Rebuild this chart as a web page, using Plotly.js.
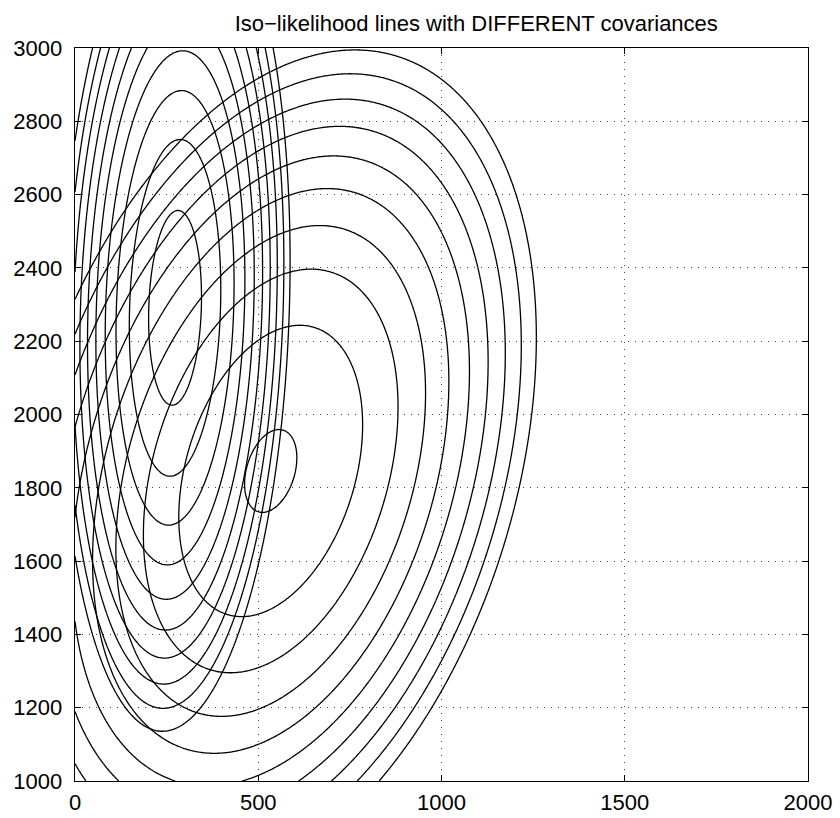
<!DOCTYPE html>
<html>
<head>
<meta charset="utf-8">
<script src="https://cdn.plot.ly/plotly-3.0.1.min.js"></script>
<style>html,body{margin:0;padding:0;background:#fff;}#chart{width:840px;height:818px;}</style>
</head>
<body>
<div id="chart"></div>
<script>
// Gaussian class parameters (x, y)
const meanA = [273, 2291];
const covA = [[2592, 1053], [1053, 35112]];
const meanB = [534, 1846];
const covB = [[14450, 7260], [7260, 36300]];
// iso-likelihood levels (natural log-likelihood)
const levelStart = -30;
const levelEnd = -12;
const levelStep = 2;
// axis ticks
const xTicks = [0, 500, 1000, 1500, 2000];
const yTicks = [1000, 1200, 1400, 1600, 1800, 2000, 2200, 2400, 2600, 2800, 3000];

const xs = [], ys = [];
for (let v = 0; v <= 2000; v += 4) xs.push(v);
for (let v = 1000; v <= 3000; v += 4) ys.push(v);

function logLik(mean, cov) {
  const a = cov[0][0], b = cov[0][1], d = cov[1][1];
  const det = a * d - b * b;
  const c0 = -Math.log(2 * Math.PI) - 0.5 * Math.log(det);
  const z = [];
  for (const y of ys) {
    const row = [];
    const dy = y - mean[1];
    for (const x of xs) {
      const dx = x - mean[0];
      const m = (d * dx * dx - 2 * b * dx * dy + a * dy * dy) / det;
      row.push(c0 - 0.5 * m);
    }
    z.push(row);
  }
  return z;
}

function trace(z) {
  return {
    type: 'contour', x: xs, y: ys, z: z,
    autocontour: false,
    contours: {start: levelStart, end: levelEnd, size: levelStep, coloring: 'lines', showlabels: false},
    colorscale: [[0, '#000'], [1, '#000']],
    showscale: false,
    line: {width: 1.3, smoothing: 1},
    hoverinfo: 'skip'
  };
}

const font = {family: '"Liberation Sans", Arial, Helvetica, sans-serif', color: '#000'};
const axisCommon = {
  showline: true, linecolor: '#000', linewidth: 1.3, mirror: 'ticks',
  ticks: 'inside', ticklen: 6, tickcolor: '#000', tickwidth: 1,
  showgrid: true, gridcolor: '#444', gridwidth: 1, griddash: '1px,6px',
  zeroline: false, tickfont: {family: font.family, size: 22, color: '#000'}
};

const layout = {
  width: 840, height: 818,
  margin: {l: 75, r: 32, t: 48, b: 37, pad: 0},
  paper_bgcolor: '#fff', plot_bgcolor: '#fff',
  font: font,
  showlegend: false,
  title: {text: 'Iso\u2212likelihood lines with DIFFERENT covariances', font: {family: font.family, size: 22, color: '#000'}, x: 0.567, xanchor: 'center', y: 0.972, yanchor: 'middle'},
  xaxis: Object.assign({}, axisCommon, {range: [0, 2000], tickvals: xTicks, ticktext: xTicks.map(String), ticklabelstandoff: 1}),
  yaxis: Object.assign({}, axisCommon, {range: [1000, 3000], tickvals: yTicks, ticktext: yTicks.map(String), ticklabelstandoff: 7})
};

Plotly.newPlot('chart', [trace(logLik(meanA, covA)), trace(logLik(meanB, covB))], layout, {staticPlot: true, displayModeBar: false});
</script>
</body>
</html>
